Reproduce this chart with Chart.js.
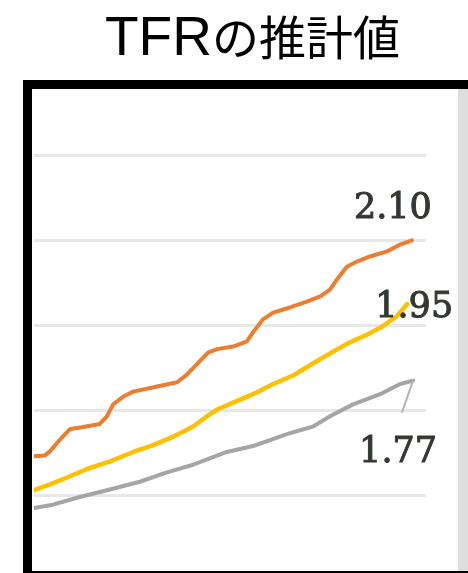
<!DOCTYPE html>
<html lang="ja">
<head>
<meta charset="utf-8">
<title>TFRの推計値</title>
<script src="https://cdn.jsdelivr.net/npm/chart.js@4/dist/chart.umd.min.js"></script>
<style>
  html, body { margin: 0; padding: 0; background: #fff; }
  #wrap { position: relative; width: 468px; height: 573px; }
</style>
</head>
<body>
<div id="wrap"><canvas id="chart"></canvas></div>
<script>
(() => {
  "use strict";

  const title = ["TFR", "の推計値"];
  const endLabels = ["2.10", "1.95", "1.77"];
  const gridTicks = [1.8, 1.9, 2.0, 2.1, 2.2];

  // x runs 0..100 across the plot, y in TFR-like units
  const orangeX = [0, 2.8, 4.1, 7.1, 9.2, 12.2, 16.8, 18.6, 20.2, 22.7, 25.3, 31.4, 36.5, 39.0, 42.3, 44.4,
    46.7, 50.8, 54.3, 55.9, 58.4, 61.0, 65.3, 69.6, 73.0, 75.5, 77.3, 79.8, 82.4, 85.7, 90.1, 93.4, 96.4];
  const orangeY = [1.846, 1.847, 1.852, 1.868, 1.878, 1.880, 1.884, 1.893, 1.907, 1.916, 1.922, 1.928, 1.933,
    1.942, 1.958, 1.968, 1.972, 1.975, 1.981, 1.992, 2.007, 2.015, 2.021, 2.028, 2.034, 2.042, 2.054, 2.069,
    2.075, 2.081, 2.087, 2.095, 2.100];

  const yellowX = [0, 4.1, 8.4, 13.5, 19.4, 25.3, 30.4, 35.5, 40.6, 44.1, 46.7, 50.8, 55.9, 61.0, 66.1, 72.2,
    76.3, 80.6, 84.9, 89.0, 92.6, 95.2];
  const yellowY = [1.806, 1.813, 1.821, 1.831, 1.840, 1.851, 1.859, 1.869, 1.881, 1.893, 1.901, 1.909, 1.919,
    1.931, 1.941, 1.958, 1.969, 1.980, 1.989, 1.999, 2.011, 2.025];

  const grayX = [0, 4.8, 11.7, 18.6, 27.0, 33.9, 40.6, 49.2, 55.9, 64.5, 71.2, 75.5, 81.4, 88.3, 93.4, 96.7];
  const grayY = [1.785, 1.789, 1.798, 1.806, 1.816, 1.827, 1.836, 1.851, 1.858, 1.872, 1.881, 1.893, 1.907,
    1.919, 1.931, 1.935];

  const leaderX = [96.7, 93.9];
  const leaderY = [1.935, 1.898];

  const pts = (xs, ys) => xs.map((x, i) => ({ x, y: ys[i] }));

  const line = (data, color, width) => ({
    data, borderColor: color, borderWidth: width, pointRadius: 0, tension: 0,
    borderJoinStyle: "round", borderCapStyle: "round", fill: false,
  });

  // black frame, title and end-of-line labels
  const decor = {
    id: "decor",
    beforeDraw(chart) {
      const ctx = chart.ctx;
      ctx.save();
      ctx.fillStyle = "#000";
      ctx.fillRect(23, 80, 445, 9);
      ctx.fillRect(23, 80, 9, 493);
      ctx.fillRect(23, 571, 445, 2);
      ctx.fillStyle = "#dedede";
      ctx.fillRect(458, 89, 10, 482);
      ctx.restore();
    },
    afterDraw(chart) {
      const ctx = chart.ctx;
      ctx.save();
      ctx.fillStyle = "#000";
      ctx.textBaseline = "alphabetic";
      ctx.textAlign = "left";
      ctx.font = '55px "Liberation Sans", Arial, sans-serif';
      const w = ctx.measureText(title[0]).width;
      ctx.fillText(title[0], 105, 55);
      ctx.font = '47px "Noto Sans CJK JP", sans-serif';
      ctx.fillText(title[1], 105 + w, 55);

      const xs = chart.scales.x, ys = chart.scales.y;
      const ends = [
        [orangeX.at(-1), orangeY.at(-1), -19, -22],
        [yellowX.at(-1), yellowY.at(-1), 7, 13],
        [leaderX.at(-1), leaderY.at(-1), -4, 50],
      ];
      ctx.font = '35px "DejaVu Serif", serif';
      ctx.fillStyle = ctx.strokeStyle = "#333833";
      ctx.lineWidth = 1;
      ctx.textAlign = "center";
      ends.forEach(([x, y, dx, dy], i) => {
        const px = xs.getPixelForValue(x) + dx, py = ys.getPixelForValue(y) + dy;
        ctx.fillText(endLabels[i], px, py);
        ctx.strokeText(endLabels[i], px, py);
      });
      ctx.restore();
    },
  };

  new Chart(document.getElementById("chart"), {
    type: "line",
    data: {
      datasets: [
        line(pts(leaderX, leaderY), "#b4b4b4", 2),
        line(pts(grayX, grayY), "#a5a5a5", 4),
        line(pts(yellowX, yellowY), "#ffc000", 4.5),
        line(pts(orangeX, orangeY), "#ed7d31", 4),
      ],
    },
    options: {
      responsive: true,
      maintainAspectRatio: false,
      animation: false,
      layout: { padding: { left: 34, right: 42, top: 89, bottom: 2 } },
      plugins: { legend: { display: false }, tooltip: { enabled: false }, title: { display: false } },
      scales: {
        x: {
          type: "linear", min: 0, max: 100,
          grid: { display: false, drawTicks: false },
          border: { display: false },
          ticks: { display: false },
        },
        y: {
          type: "linear", min: 1.711, max: 2.278,
          afterBuildTicks: (s) => { s.ticks = gridTicks.map((v) => ({ value: v })); },
          grid: { color: "#e8e8e8", lineWidth: 3, drawTicks: false },
          border: { display: false },
          ticks: { display: false },
        },
      },
    },
    plugins: [decor],
  });
})();
</script>
</body>
</html>
